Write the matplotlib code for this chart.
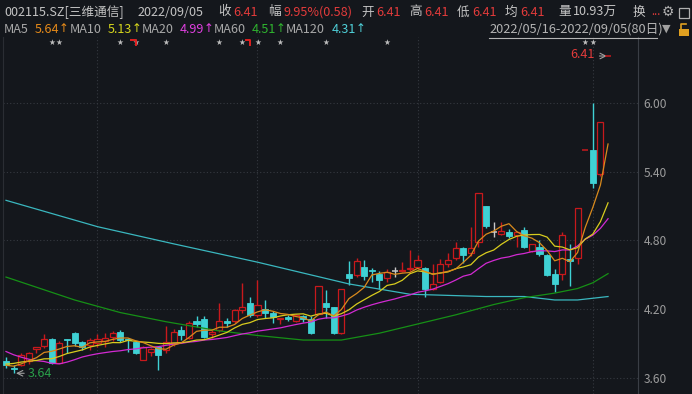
import numpy as np
import matplotlib
matplotlib.use("Agg")
import matplotlib.pyplot as plt
from matplotlib.patches import Rectangle
from matplotlib.lines import Line2D

plt.rcParams['font.family'] = ['Noto Sans CJK SC', 'DejaVu Sans']

# daily candles 2022/05/16 - 2022/09/05 (80 days)
opens = [3.75, 3.69, 3.71, 3.75, 3.85, 3.88, 3.94, 3.73, 3.94, 3.99,
         3.91, 3.89, 3.90, 3.92, 3.96, 4.00, 3.94, 3.91, 3.76, 3.83,
         3.87, 3.84, 3.90, 4.02, 3.95, 4.10, 4.11, 3.98, 4.02, 4.10,
         4.10, 4.19, 4.25, 4.15, 4.20, 4.17, 4.11, 4.13, 4.10, 4.14,
         4.11, 4.16, 4.25, 4.22, 3.99, 4.51, 4.50, 4.57, 4.54, 4.51,
         4.47, 4.53, 4.53, 4.55, 4.57, 4.56, 4.38, 4.44, 4.59, 4.65,
         4.73, 4.69, 4.79, 5.10, 4.87, 4.86, 4.87, 4.85, 4.89, 4.71,
         4.74, 4.67, 4.51, 4.51, 4.64, 4.65, 5.59, 5.59, 5.38, 6.41]
highs = [3.78, 3.71, 3.82, 3.83, 3.87, 3.98, 3.95, 3.92, 3.94, 4.00,
         3.92, 3.95, 3.98, 3.99, 4.01, 4.02, 3.95, 3.92, 3.88, 3.86,
         3.87, 4.05, 4.03, 4.05, 4.10, 4.14, 4.14, 4.02, 4.25, 4.12,
         4.20, 4.43, 4.31, 4.45, 4.28, 4.18, 4.12, 4.15, 4.16, 4.15,
         4.14, 4.40, 4.37, 4.22, 4.38, 4.62, 4.65, 4.63, 4.56, 4.53,
         4.55, 4.57, 4.61, 4.72, 4.67, 4.57, 4.59, 4.64, 4.69, 4.79,
         4.74, 4.92, 5.21, 5.10, 4.96, 4.96, 4.90, 4.87, 4.92, 4.77,
         4.80, 4.68, 4.55, 4.87, 4.77, 5.08, 5.59, 6.00, 5.83, 6.41]
lows = [3.69, 3.64, 3.70, 3.72, 3.82, 3.86, 3.72, 3.73, 3.82, 3.88,
        3.84, 3.84, 3.87, 3.87, 3.92, 3.91, 3.83, 3.81, 3.76, 3.79,
        3.67, 3.82, 3.88, 3.93, 3.94, 4.04, 3.95, 3.95, 4.00, 4.04,
        4.08, 4.17, 4.13, 4.13, 4.12, 4.08, 4.07, 4.10, 4.09, 4.09,
        3.98, 4.15, 4.12, 3.98, 3.98, 4.41, 4.48, 4.45, 4.44, 4.38,
        4.44, 4.48, 4.52, 4.53, 4.55, 4.31, 4.37, 4.43, 4.57, 4.63,
        4.60, 4.66, 4.74, 4.91, 4.83, 4.85, 4.82, 4.74, 4.73, 4.70,
        4.66, 4.49, 4.35, 4.45, 4.40, 4.59, 5.59, 5.26, 5.36, 6.41]
closes = [3.71, 3.68, 3.80, 3.82, 3.87, 3.94, 3.73, 3.90, 3.93, 3.90,
          3.87, 3.93, 3.94, 3.95, 3.99, 3.93, 3.93, 3.82, 3.87, 3.85,
          3.80, 3.91, 4.00, 3.97, 4.08, 4.07, 3.96, 4.00, 4.10, 4.08,
          4.19, 4.22, 4.15, 4.24, 4.17, 4.13, 4.12, 4.11, 4.15, 4.11,
          3.99, 4.40, 4.22, 3.99, 4.38, 4.47, 4.62, 4.49, 4.53, 4.45,
          4.52, 4.53, 4.54, 4.56, 4.63, 4.38, 4.42, 4.59, 4.63, 4.73,
          4.67, 4.73, 5.21, 4.93, 4.87, 4.88, 4.84, 4.87, 4.74, 4.77,
          4.68, 4.50, 4.42, 4.85, 4.62, 5.08, 5.59, 5.30, 5.83, 6.41]
# closes before the window (needed for MA5/10/20 at the left edge)
prior_closes = [4.25, 4.22, 4.18, 4.12, 4.08, 4.05, 4.00, 3.62, 3.48, 3.40,
                3.62, 3.68, 3.75, 3.80, 3.80, 3.72, 3.70, 3.68, 3.74]

# MA60 / MA120 at some days
ma60_days = [0, 9, 15, 21, 28, 33, 39, 44, 49, 54, 59, 64, 68, 72, 75, 77, 79]
ma60_vals = [4.48, 4.28, 4.17, 4.09, 4.01, 3.97, 3.93, 3.93, 3.99, 4.07,
             4.15, 4.24, 4.30, 4.34, 4.38, 4.43, 4.51]
ma120_days = [0, 12, 22, 33, 45, 53, 58, 63, 68, 72, 75, 79]
ma120_vals = [5.15, 4.92, 4.77, 4.61, 4.42, 4.33, 4.32, 4.31, 4.31, 4.28, 4.28, 4.31]

month_start = [12, 33, 54, 77]          # 06/01, 07/01, 08/01, 09/01
star_days = [6, 7, 15, 17, 21, 28, 31, 33, 36, 42, 50, 76, 77]
flag_days = [17, 32]
yticks = [3.60, 4.20, 4.80, 5.40, 6.00]

ma_names = ['MA5', 'MA10', 'MA20', 'MA60', 'MA120']
ma_last = ['5.64', '5.13', '4.99', '4.51', '4.31']

BG = '#14171c'
RED = '#c8191c'
CYAN = '#3fd1d4'
GRAY = '#c4c4c4'
TXTRED = '#e33b3b'

W, H = 692, 394
fig = plt.figure(figsize=(W / 100, H / 100), dpi=100, facecolor=BG)
ax = fig.add_axes([3 / W, 0, 635 / W, 357 / H])
ax.set_facecolor(BG)
ax.set_xlim(-0.394, 82.93)
ax.set_ylim(3.459, 6.576)

o = np.array(opens); h = np.array(highs); l = np.array(lows); c = np.array(closes)
x = np.arange(len(c))
wd = 0.8

for i in x:
    if c[i] > o[i]:
        ax.vlines(i, l[i], h[i], color=RED, lw=1, zorder=3)
        ax.add_patch(Rectangle((i - wd / 2, o[i]), wd, c[i] - o[i], facecolor=BG,
                               edgecolor=RED, lw=0.9, zorder=4))
    elif c[i] < o[i]:
        ax.vlines(i, l[i], h[i], color=CYAN, lw=1, zorder=3)
        ax.add_patch(Rectangle((i - wd / 2, c[i]), wd, o[i] - c[i], facecolor=CYAN,
                               edgecolor=CYAN, lw=0.6, zorder=4))
    else:
        col = RED if h[i] == l[i] else '#c8c8c8'
        ax.vlines(i, l[i], h[i], color=col, lw=1, zorder=3)
        ax.hlines(c[i], i - wd / 2, i + wd / 2, color=col, lw=1.1, zorder=4)

# moving averages
allc = np.array(prior_closes + closes)
n0 = len(prior_closes)
def ma(n):
    return np.array([allc[k - n + 1:k + 1].mean() for k in range(n0, len(allc))])

ma_cols = ['#d98a1c', '#d8cc1e', '#d22ad2', '#169016', '#3ab7bf']
ax.plot(ma120_days, ma120_vals, color=ma_cols[4], lw=0.9, zorder=5)
ax.plot(ma60_days, ma60_vals, color=ma_cols[3], lw=0.9, zorder=5)
ax.plot(x, ma(20), color=ma_cols[2], lw=0.9, zorder=5)
ax.plot(x, ma(10), color=ma_cols[1], lw=0.9, zorder=5)
ax.plot(x, ma(5), color=ma_cols[0], lw=0.9, zorder=5)

# grid
for yv in yticks:
    ax.axhline(yv, color='#353940', lw=0.8, ls=(0, (1, 2)), zorder=1)
for d in month_start:
    ax.axvline(d, color='#353940', lw=0.8, ls=(0, (1, 2)), zorder=1)

for s in ['top', 'bottom']:
    ax.spines[s].set_visible(False)
ax.spines['left'].set_color('#2a2d33')
ax.spines['right'].set_color('#3a3e45')
ax.set_xticks([])
ax.yaxis.tick_right()
ax.set_yticks(yticks)
ax.set_yticklabels(['%.2f' % v for v in yticks])
ax.tick_params(axis='y', length=0, pad=4, labelsize=8.6, labelcolor='#9c9c9c')

# stars / markers row
ystar = 6.524
for d in star_days:
    ax.text(d, ystar, '★', ha='center', va='center', fontsize=5.5, color='#bdbdbd',
            family=['DejaVu Sans'])
for d in flag_days:
    ax.plot([d - 0.55, d + 0.05, d + 0.05], [ystar + 0.025, ystar + 0.025, ystar - 0.02],
            color='#e02020', lw=1.4, zorder=6)

# high / low marks
ax.text(77.3, 6.425, '6.41', ha='right', va='center', fontsize=9, color=TXTRED)
ax.annotate('', xy=(79.2, 6.41), xytext=(77.5, 6.41),
            arrowprops=dict(arrowstyle='->', color='#a0a0a0', lw=0.8))
ax.annotate('', xy=(0.95, 3.64), xytext=(2.75, 3.64),
            arrowprops=dict(arrowstyle='->', color='#a0a0a0', lw=0.8))
ax.text(2.8, 3.635, '3.64', ha='left', va='center', fontsize=9, color='#2aa04a')

# header
def ft(px, py, s, col, size=9.1, **kw):
    fig.text(px / W, 1 - py / H, s, color=col, fontsize=size, ha='left', va='center', **kw)

row1 = 12
ft(4, row1, '002115.SZ[三维通信]', GRAY)
ft(138, row1, '2022/09/05', GRAY)
ft(218, row1, '收', GRAY); ft(233, row1, '6.41', TXTRED)
ft(268, row1, '幅', GRAY); ft(283, row1, '9.95%(0.58)', TXTRED)
ft(361, row1, '开', GRAY); ft(376, row1, '6.41', TXTRED)
ft(409, row1, '高', GRAY); ft(424, row1, '6.41', TXTRED)
ft(457, row1, '低', GRAY); ft(472, row1, '6.41', TXTRED)
ft(505, row1, '均', GRAY); ft(520, row1, '6.41', TXTRED)
ft(558, row1, '量', GRAY); ft(573, row1, '10.93万', GRAY)
ft(633, row1, '换', GRAY); ft(651, row1, '...', TXTRED, size=8)
fig.text(668 / W, 1 - 12 / H, '⚙', color='#b0b0b0', fontsize=10, ha='center', va='center',
         family=['DejaVu Sans'])
fig.add_artist(Rectangle((679 / W, 1 - 18 / H), 10 / W, 10 / H, transform=fig.transFigure,
                         facecolor='none', edgecolor='#b0b0b0', lw=0.9))

row2 = 29.5
name_x = [4, 70, 142, 214, 286]
val_x = [35, 108, 180, 252, 332]
lab_cols = ['#e68a19', '#d6d61c', '#e040e0', '#2fb52f', '#4fd0d8']
for nm, v, nx, vx, col in zip(ma_names, ma_last, name_x, val_x, lab_cols):
    ft(nx, row2, nm, '#a8a8a8')
    ft(vx, row2, v, col)
    ft(vx + 24, row2 - 0.5, '↑', col, size=8.5, family=['DejaVu Sans'])
ft(489, row2, '2022/05/16-2022/09/05(80日)', '#b4b4b4', size=9.2)
fig.add_artist(Line2D([489 / W, 657 / W], [1 - 37.5 / H, 1 - 37.5 / H],
                      transform=fig.transFigure, color='#b4b4b4', lw=0.8))
fig.text(666 / W, 1 - 29 / H, '▼', color='#a0a0a0', fontsize=8, ha='center', va='center',
         family=['DejaVu Sans'])
fig.add_artist(Rectangle((679 / W, 1 - 36 / H), 10 / W, 7 / H, transform=fig.transFigure,
                         facecolor='#e0a020', edgecolor='none'))
fig.add_artist(Line2D([681 / W, 681 / W, 686 / W], [1 - 29 / H, 1 - 24 / H, 1 - 24 / H],
                      transform=fig.transFigure, color='#e0a020', lw=1.2))

fig.savefig('out.png', dpi=100, facecolor=BG)
